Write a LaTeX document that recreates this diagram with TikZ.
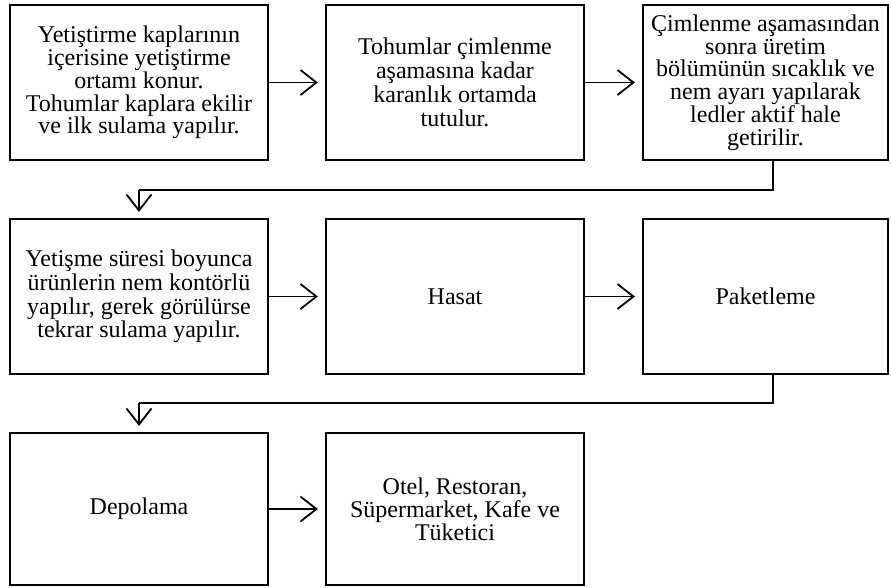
\documentclass[tikz,border=0pt]{standalone}
\usepackage{fontspec}
\setmainfont{Liberation Serif}
\usetikzlibrary{arrows.meta}
\begin{document}
\begin{tikzpicture}[x=1pt,y=-1pt,
  box/.style={draw=black, line width=2.2pt, rectangle, align=center, inner sep=0pt,
    font=\fontsize{24}{22.8}\selectfont},
  wide/.style={minimum width=258pt},
  narrow/.style={minimum width=245pt},
  tall/.style={minimum height=155pt},
  conn/.style={line width=1.8pt, -{Straight Barb[length=16pt,width=25pt,line width=1.8pt]}},
  link/.style={line width=1.8pt}]
\useasboundingbox (0,0) rectangle (891,587);
\node[box,wide,tall] (b1) at (139,82.5) {Yetiştirme kaplarının\\içerisine yetiştirme\\ortamı konur.\\Tohumlar kaplara ekilir\\ve ilk sulama yapılır.};
\node[box,wide,tall] (b2) at (455,82.5) {Tohumlar çimlenme\\[1pt]aşamasına kadar\\[1pt]karanlık ortamda\\[1pt]tutulur.};
\node[box,narrow,tall] (b3) at (765.5,82.5) {Çimlenme aşamasından\\sonra üretim\\bölümünün sıcaklık ve\\nem ayarı yapılarak\\ledler aktif hale\\getirilir.};
\node[box,wide,tall] (b4) at (139,296.5) {Yetişme süresi boyunca\\[1pt]ürünlerin nem kontörlü\\[1pt]yapılır, gerek görülürse\\[1pt]tekrar sulama yapılır.};
\node[box,wide,tall] (b5) at (455,296.5) {Hasat};
\node[box,narrow,tall] (b6) at (765.5,296.5) {Paketleme};
\node[box,wide,minimum height=152pt] (b7) at (139,509) {Depolama};
\node[box,wide,minimum height=152pt] (b8) at (455,509) {Otel, Restoran,\\Süpermarket, Kafe ve\\Tüketici};
\coordinate (c1) at (773,190);
\coordinate (c2) at (139,190);
\coordinate (c3) at (773,403);
\coordinate (c4) at (139,403);
\draw[conn, shorten >=7pt] (b1) -- (b2);
\draw[conn, shorten >=7pt] (b2) -- (b3);
\draw[conn, shorten >=7pt] (b4) -- (b5);
\draw[conn, shorten >=7pt] (b5) -- (b6);
\draw[conn, shorten >=7pt] (b7) -- (b8);
\draw[link] (b3.south -| c1) -- (c1) -- (c2);
\draw[conn, shorten >=6pt] (c2) -- (b4.north);
\draw[link] (b6.south -| c3) -- (c3) -- (c4);
\draw[conn, shorten >=6pt] (c4) -- (b7.north);
\end{tikzpicture}
\end{document}
